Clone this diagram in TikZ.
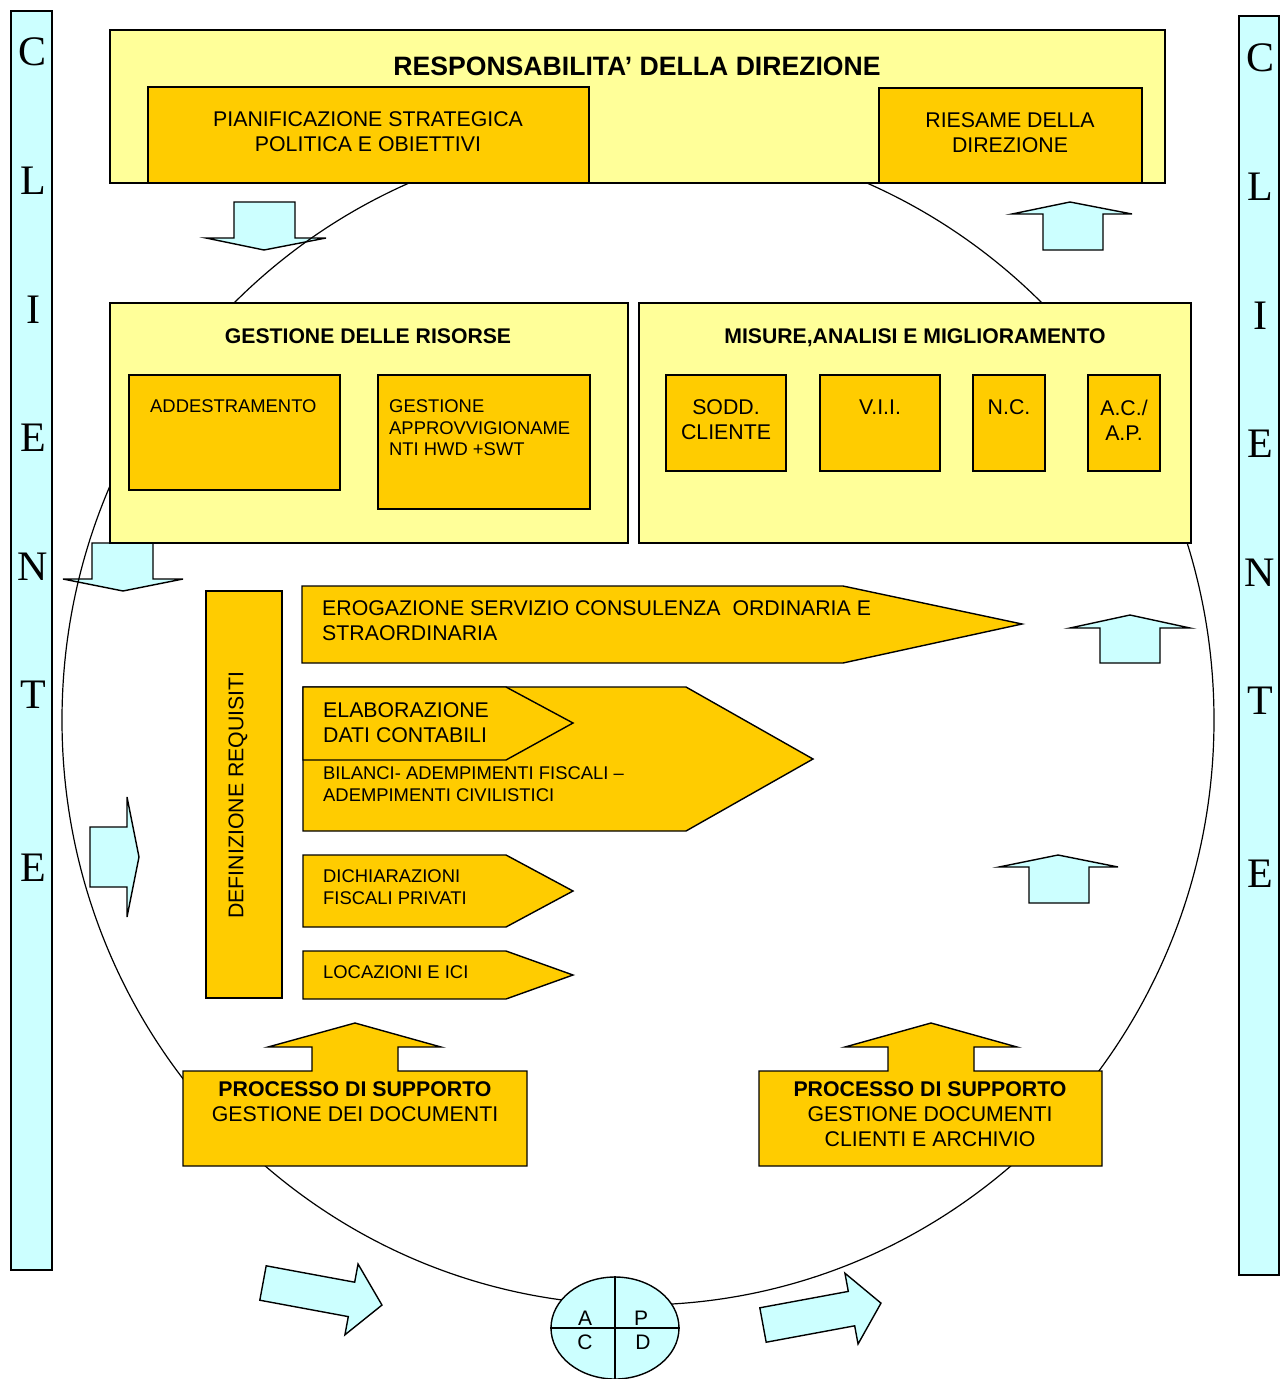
\documentclass[tikz,border=0pt]{standalone}
\usepackage{fontspec}
\usetikzlibrary{shapes.geometric}
\setmainfont{Liberation Sans}
\newfontfamily\serifletters{Liberation Serif}
\definecolor{paleyel}{RGB}{255,255,153}
\definecolor{goldfill}{RGB}{255,204,0}
\definecolor{skycyan}{RGB}{204,255,255}
\begin{document}
\begin{tikzpicture}[x=1pt,y=-1pt,
  ln/.style={line width=1.4pt, line join=miter, draw=black},
  pale/.style={ln, fill=paleyel},
  gold/.style={ln, fill=goldfill},
  sky/.style={ln, fill=skycyan},
  box/.style 2 args={anchor=north west, minimum width=#1pt, minimum height=#2pt, inner sep=0pt, outer sep=0pt},
  t21/.style={inner sep=0pt, font=\fontsize{21.3}{25}\selectfont},
  t20/.style={inner sep=0pt, font=\fontsize{21}{24}\selectfont},
  t18/.style={inner sep=0pt, font=\fontsize{18.4}{21.5}\selectfont},
  b21/.style={inner sep=0pt, font=\bfseries\fontsize{21.2}{25}\selectfont},
  b26/.style={inner sep=0pt, font=\bfseries\fontsize{26.6}{30}\selectfont},
  letter/.style={inner sep=0pt, font=\serifletters\fontsize{42}{42}\selectfont},
]
\path[use as bounding box, fill=white] (0,0) rectangle (1285,1379);

% CLIENTE side bars
\node[sky, box={41}{1259}] (barL) at (11,11) {};
\node[sky, box={40}{1259}] (barR) at (1239,16) {};
\foreach \l/\y [count=\i] in {C/52,L/181,I/310,E/438,N/567,T/695,E/868}{
  \node[letter] (cl\i) at (33,\y) {\l};
  \node[letter] (cr\i) at (1260,\y+6) {\l};
}

% flow arrows
\draw[sky] (234,202) -- (295,202) -- (295,238) -- (326,238) -- (264,250) -- (206,238) -- (234,238) -- cycle;
\draw[sky] (1043,250) -- (1103,250) -- (1103,214) -- (1132,214) -- (1070,202) -- (1012,214) -- (1043,214) -- cycle;
\draw[sky] (92,543) -- (153,543) -- (153,579) -- (183,579) -- (123,591) -- (63,579) -- (92,579) -- cycle;
\draw[sky] (90,827) -- (127,827) -- (127,797) -- (139,857) -- (127,917) -- (127,887) -- (90,887) -- cycle;
\draw[sky] (1100,663) -- (1160,663) -- (1160,628) -- (1190,628) -- (1130,615) -- (1070,628) -- (1100,628) -- cycle;
\draw[sky] (1029,903) -- (1089,903) -- (1089,867) -- (1118,867) -- (1058,855) -- (999,867) -- (1029,867) -- cycle;
\begin{scope}[shift={(263,1283)}, rotate=-10.5]
  \draw[sky] (0,-17.5) -- (90,-17.5) -- (90,-36) -- (121,0) -- (90,36) -- (90,17.5) -- (0,17.5) -- cycle;
\end{scope}
\begin{scope}[shift={(763,1325)}, rotate=10.5]
  \draw[sky] (0,-17.5) -- (90,-17.5) -- (90,-36) -- (120,0) -- (90,36) -- (90,17.5) -- (0,17.5) -- cycle;
\end{scope}

% improvement cycle
\node[ellipse, draw, line width=1.2pt, inner sep=0pt, minimum width=1152pt, minimum height=1170pt] (loop) at (638,720) {};

% management responsibility
\node[pale, box={1055}{153}] (resp) at (110,30) {};
\node[gold, box={441}{96}] (pian) at (148,87) {};
\node[gold, box={263}{95}] (ries) at (879,88) {};
\node[b26, anchor=base] (resp-t) at (637,75) {RESPONSABILITA’ DELLA DIREZIONE};
\node[t21, anchor=north, align=center] (pian-t) at (368,111.5) {PIANIFICAZIONE STRATEGICA\\POLITICA E OBIETTIVI};
\node[t21, anchor=north, align=center] (ries-t) at (1010,112.5) {RIESAME DELLA\\DIREZIONE};

% resources
\node[pale, box={518}{240}] (ris) at (110,303) {};
\node[b21, anchor=base] (ris-t) at (368,343.5) {GESTIONE DELLE RISORSE};
\node[gold, box={211}{115}] (add) at (129,375) {};
\node[t18, anchor=base west] (add-t) at (150,412.5) {ADDESTRAMENTO};
\node[gold, box={212}{134}] (appr) at (378,375) {};
\node[t18, anchor=north west, align=left] (appr-t) at (389,399.5) {GESTIONE\\APPROVVIGIONAME\\NTI HWD +SWT};

% measurement
\node[pale, box={552}{240}] (mis) at (639,303) {};
\node[b21, anchor=base] (mis-t) at (915,343.5) {MISURE,ANALISI E MIGLIORAMENTO};
\node[gold, box={120}{96}] (sodd) at (666,375) {};
\node[t21, anchor=north, align=center] (sodd-t) at (726,399.5) {SODD.\\CLIENTE};
\node[gold, box={120}{96}] (vii) at (820,375) {};
\node[t21, anchor=north] (vii-t) at (880,399.5) {V.I.I.};
\node[gold, box={72}{96}] (nc) at (973,375) {};
\node[t21, anchor=north] (nc-t) at (1009,399.5) {N.C.};
\node[gold, box={72}{96}] (acap) at (1088,375) {};
\node[t21, anchor=north, align=center] (acap-t) at (1124,399.5) {A.C./\\A.P.};

% requirements and service processes
\node[gold, box={76}{407}] (req) at (206,591) {};
\node[t21, rotate=90] (req-t) at (238,795) {DEFINIZIONE REQUISITI};

\draw[gold] (302,586) -- (843,586) -- (1022,624) -- (843,663) -- (302,663) -- cycle;
\node[t21, anchor=north west, align=left] (ero-t) at (322,600.5) {EROGAZIONE SERVIZIO CONSULENZA\ \ ORDINARIA E\\STRAORDINARIA};

\draw[gold] (303,687) -- (686,687) -- (813,759) -- (686,831) -- (303,831) -- cycle;
\draw[gold] (303,687) -- (506,687) -- (573,723) -- (506,760) -- (303,760) -- cycle;
\node[t21, anchor=north west, align=left] (ela-t) at (323,702.5) {ELABORAZIONE\\DATI CONTABILI};
\node[t18, anchor=north west, align=left] (bil-t) at (323,766.5) {BILANCI- ADEMPIMENTI FISCALI –\\ADEMPIMENTI CIVILISTICI};

\draw[gold] (303,855) -- (506,855) -- (573,891) -- (506,927) -- (303,927) -- cycle;
\node[t18, anchor=north west, align=left] (dic-t) at (323,869.5) {DICHIARAZIONI\\FISCALI PRIVATI};

\draw[gold] (303,951) -- (506,951) -- (573,975) -- (506,999) -- (303,999) -- cycle;
\node[t18, anchor=base west] (loc-t) at (323,978.5) {LOCAZIONI E ICI};

% support processes
\draw[gold] (183,1071) -- (312,1071) -- (312,1047) -- (268,1047) -- (355,1023) -- (441,1047) -- (398,1047) -- (398,1071) -- (527,1071) -- (527,1166) -- (183,1166) -- cycle;
\node[t21, anchor=north, align=center] (sup1-t) at (355,1081.5) {\textbf{PROCESSO DI SUPPORTO}\\GESTIONE DEI DOCUMENTI};
\draw[gold] (759,1071) -- (888,1071) -- (888,1047) -- (845,1047) -- (931,1023) -- (1017,1047) -- (974,1047) -- (974,1071) -- (1102,1071) -- (1102,1166) -- (759,1166) -- cycle;
\node[t21, anchor=north, align=center] (sup2-t) at (930,1081.5) {\textbf{PROCESSO DI SUPPORTO}\\GESTIONE DOCUMENTI\\CLIENTI E ARCHIVIO};

% PDCA wheel
\node[sky, ellipse, inner sep=0pt, minimum width=128pt, minimum height=102pt] (acpd) at (615,1328) {};
\draw[line width=1.4pt] (acpd.north) -- (acpd.south);
\draw[line width=1.4pt] (acpd.west) -- (acpd.east);
\node[t20, anchor=base] (pa) at (585,1325) {A};
\node[t20, anchor=base] (pp) at (641,1325) {P};
\node[t20, anchor=base] (pc) at (585,1349) {C};
\node[t20, anchor=base] (pd) at (643,1349) {D};
\end{tikzpicture}
\end{document}
